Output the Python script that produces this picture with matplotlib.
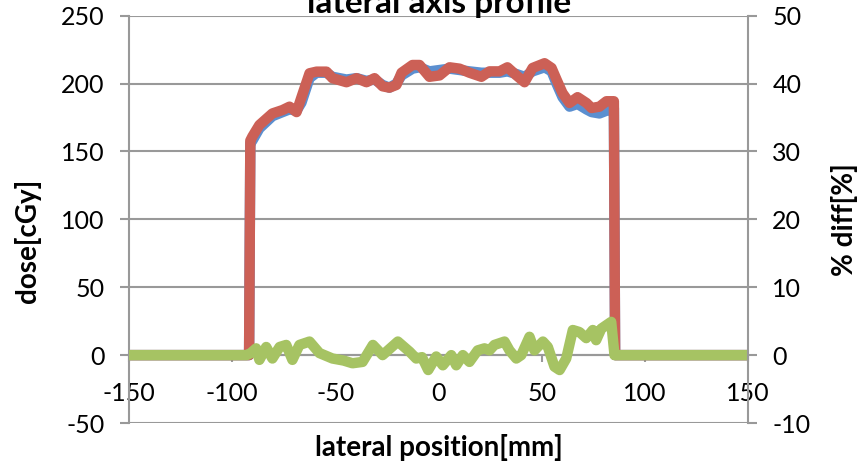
import matplotlib
matplotlib.use('Agg')
import matplotlib.pyplot as plt

# dose profile (lateral position in mm, dose in cGy)
dose_x = [-150, -91.8, -91.2, -90.2, -86.8, -80.5, -75.6, -72.2, -68.8, -66.4,
          -62.5, -59.1, -54.3, -51.4, -44.6, -39.7, -34.9, -31.0, -27.1, -23.8,
          -20.4, -17.9, -12.6, -9.2, -4.4, 0.5, 5.3, 10.2, 15.0, 20.8,
          24.7, 29.6, 33.4, 37.8, 41.7, 45.6, 51.4, 54.8, 57.2, 60.1,
          63.5, 67.4, 71.7, 74.2, 78.0, 81.4, 84.3, 85.0, 85.6, 150]
dose_calc = [0, 0, 158, 161, 169.5, 178, 180.5, 183, 179, 190,
             207.6, 208.8, 208.8, 204, 201, 204, 201, 204, 198, 197,
             199, 208, 213.7, 213.7, 205, 206, 212, 211, 208, 205,
             209, 209, 212, 206, 201, 211.5, 215, 211.5, 203, 193,
             185.7, 190, 185.7, 182, 183, 187, 187, 187, 0, 0]
dose_meas = [0, 0, 156, 158, 167, 176, 179, 181, 180, 186,
             204, 208, 208, 205, 203, 204, 202, 203, 199, 197,
             200, 206, 211, 212, 209, 210, 211, 210, 209, 208,
             208, 208, 209, 207, 205, 209, 212, 209, 200, 190,
             183, 185, 181, 179, 178, 180, 181, 182, 0, 0]

# percent difference (right axis)
diff_x = [-150, -93.0, -91.0, -88.4, -86.8, -83.5, -80.5, -77.0, -73.8, -70.8,
          -67.4, -62.5, -57.7, -51.4, -46.0, -41.7, -36.8, -31.8, -27.1, -19.7,
          -14.0, -10.8, -8.0, -5.0, -1.1, 2.1, 6.2, 8.6, 11.8, 15.0,
          19.0, 22.3, 24.7, 27.1, 32.0, 34.4, 37.7, 40.1, 44.1, 46.5,
          50.6, 53.0, 56.2, 58.7, 61.9, 65.1, 68.3, 71.6, 74.8, 76.4,
          78.9, 81.3, 83.7, 85.3, 150]
diff_pct = [0, 0, 0.3, 1.0, -0.7, 1.2, -0.5, 1.2, 1.5, -0.7,
            1.5, 2.0, 0.3, -0.5, -0.8, -1.2, -1.0, 1.5, 0.0, 2.0,
            0.5, -0.5, -0.3, -2.2, -0.2, -1.5, 0.0, -1.5, 0.0, -1.0,
            0.7, 1.0, 0.7, 1.5, 2.0, 0.7, -0.5, 0.0, 2.7, 0.7,
            2.0, 1.2, -1.7, -2.2, -0.5, 3.7, 3.4, 2.5, 3.7, 2.2,
            3.9, 4.4, 4.9, 0.0, 0]

x_ticks = [-150, -100, -50, 0, 50, 100, 150]
dose_ticks = [-50, 0, 50, 100, 150, 200, 250]
diff_ticks = [-10, 0, 10, 20, 30, 40, 50]

plt.rcParams['font.family'] = ['Lato', 'DejaVu Sans']
plt.rcParams['axes.unicode_minus'] = False
grey = '#999999'

fig = plt.figure(figsize=(8.67, 4.65), dpi=100)
ax = fig.add_axes([129 / 867, 42 / 465, 619 / 867, 407.3 / 465])

ax.plot(dose_x, dose_meas, color='#5B8FD0', lw=7.5,
        solid_capstyle='round', solid_joinstyle='round')
ax.plot(dose_x, dose_calc, color='#CC6056', lw=7.5,
        solid_capstyle='round', solid_joinstyle='round')

ax.set_xlim(-150, 150)
ax.set_ylim(-50, 250)
ax.set_xticks(x_ticks)
ax.set_yticks(dose_ticks)
ax.yaxis.grid(True, color=grey, lw=1.5)
ax.set_axisbelow(True)

ax.spines['top'].set_visible(False)
ax.spines['right'].set_visible(False)
ax.spines['bottom'].set_position(('data', 0))
for s in ['left', 'bottom']:
    ax.spines[s].set_color(grey)
    ax.spines[s].set_linewidth(1.5)

ax.tick_params(axis='y', direction='out', length=6.5, width=1.5, color=grey,
               pad=11, labelsize=18)
ax.tick_params(axis='x', direction='out', length=5, width=1.5, color=grey,
               pad=14, labelsize=18)

ax2 = ax.twinx()
ax2.plot(diff_x, diff_pct, color='#A6C363', lw=7.5,
         solid_capstyle='round', solid_joinstyle='round')
ax2.set_ylim(-10, 50)
ax2.set_yticks(diff_ticks)
for s in ['left', 'top', 'bottom']:
    ax2.spines[s].set_visible(False)
ax2.spines['right'].set_color(grey)
ax2.spines['right'].set_linewidth(1.5)
ax2.tick_params(axis='y', direction='out', length=6.5, width=1.5, color=grey,
                pad=11, labelsize=18)

fig.text(28 / 867, 1 - 241 / 465, 'dose[cGy]', rotation=90, fontsize=20,
         fontweight='bold', ha='center', va='center')
fig.text(845 / 867, 1 - 220 / 465, '% diff[%]', rotation=90, fontsize=20,
         fontweight='bold', ha='center', va='center')
fig.text(439 / 867, 1 - 447 / 465, 'lateral position[mm]', fontsize=20,
         fontweight='bold', ha='center', va='center')
fig.text(439 / 867, 1 - 12.5 / 465, 'lateral axis profile', fontsize=24,
         fontweight='bold', ha='center', va='baseline')

fig.savefig('out.png', dpi=100)
